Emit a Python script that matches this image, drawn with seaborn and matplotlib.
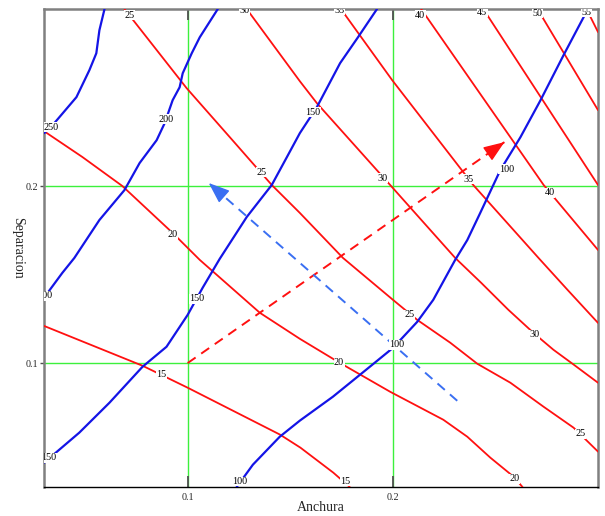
import matplotlib
matplotlib.use("Agg")
import matplotlib.pyplot as plt
import seaborn as sns

# ---------------- data ----------------
# red contour lines
red15_x = [0.030, 0.078, 0.100, 0.145, 0.155, 0.171, 0.179]
red15_y = [0.121, 0.0985, 0.0861, 0.0596, 0.0522, 0.0381, 0.030]
red20_x = [0.030, 0.0487, 0.0682, 0.0927, 0.1059, 0.1352, 0.1547, 0.1733, 0.1987, 0.2246, 0.2363, 0.2475, 0.2588, 0.2632]
red20_y = [0.231, 0.2164, 0.200, 0.1735, 0.1583, 0.1284, 0.1137, 0.1007, 0.0838, 0.068, 0.0584, 0.0466, 0.0359, 0.030]
red25_x = [0.0692, 0.0995, 0.122, 0.141, 0.1547, 0.1757, 0.2001, 0.2119, 0.228, 0.2412, 0.2573, 0.2734, 0.2881, 0.300]
red25_y = [0.300, 0.2553, 0.2257, 0.2006, 0.1848, 0.1594, 0.1357, 0.1244, 0.1115, 0.0996, 0.0889, 0.0754, 0.0635, 0.050]
red30_x = [0.1288, 0.1547, 0.163, 0.1987, 0.2304, 0.2431, 0.2563, 0.269, 0.2783, 0.2876, 0.300]
red30_y = [0.300, 0.2592, 0.2468, 0.2006, 0.1594, 0.1453, 0.1301, 0.1166, 0.1075, 0.0996, 0.0889]
red35_x = [0.1747, 0.1997, 0.2392, 0.271, 0.2852, 0.300]
red35_y = [0.300, 0.2598, 0.2006, 0.1594, 0.1413, 0.1227]
red40_x = [0.2138, 0.2735, 0.300]
red40_y = [0.300, 0.2006, 0.1639]
red45_x = [0.2441, 0.300]
red45_y = [0.300, 0.2006]
red50_x = [0.2705, 0.300]
red50_y = [0.300, 0.2429]
red55_x = [0.2944, 0.300]
red55_y = [0.300, 0.2870]

# blue contour lines
blue250_x = [0.0595, 0.057, 0.0555, 0.0521, 0.0458, 0.035, 0.0301]
blue250_y = [0.300, 0.288, 0.275, 0.2654, 0.2502, 0.2355, 0.2299]
blue200_x = [0.1147, 0.1059, 0.102, 0.0976, 0.0961, 0.0927, 0.0888, 0.0849, 0.0766, 0.0692, 0.057, 0.0448, 0.0389, 0.0321]
blue200_y = [0.300, 0.284, 0.275, 0.2637, 0.2558, 0.2485, 0.2355, 0.2259, 0.213, 0.1977, 0.1808, 0.1594, 0.1509, 0.1402]
blue150_x = [0.1923, 0.183, 0.1743, 0.163, 0.1547, 0.1484, 0.141, 0.1288, 0.1156, 0.1073, 0.100, 0.0897, 0.078, 0.0619, 0.0472, 0.0301]
blue150_y = [0.300, 0.284, 0.2694, 0.2446, 0.2299, 0.2164, 0.2006, 0.1825, 0.1588, 0.1425, 0.1272, 0.1092, 0.0979, 0.0776, 0.0607, 0.0438]
blue100_x = [0.1239, 0.1318, 0.1449, 0.1547, 0.1708, 0.184, 0.2001, 0.2119, 0.2197, 0.2304, 0.2363, 0.2426, 0.2524, 0.2622, 0.272, 0.2832, 0.294, 0.2959]
blue100_y = [0.030, 0.0426, 0.0584, 0.0675, 0.081, 0.0934, 0.1086, 0.1233, 0.1357, 0.1583, 0.1695, 0.1848, 0.209, 0.2276, 0.2485, 0.2739, 0.2976, 0.300]

# dashed arrows (tail, tip)
red_arrow_x = [0.100, 0.2544]
red_arrow_y = [0.100, 0.2248]
blue_arrow_x = [0.2314, 0.1103]
blue_arrow_y = [0.0787, 0.2017]

# contour labels
red_label_text = ['25', '30', '35', '40', '45', '50', '55', '20', '25', '30', '35', '40',
                  '15', '20', '25', '30', '25', '15', '20']
red_label_x = [0.0717, 0.1278, 0.1738, 0.2133, 0.2436, 0.2705, 0.2944, 0.0927, 0.1362, 0.1948, 0.2368, 0.2764,
               0.0873, 0.1738, 0.208, 0.269, 0.2915, 0.1767, 0.2593]
red_label_y = [0.2964, 0.2993, 0.2993, 0.2964, 0.2981, 0.2976, 0.2981, 0.1724, 0.2079, 0.2045, 0.2039, 0.1961,
               0.0934, 0.1002, 0.1272, 0.116, 0.0601, 0.0331, 0.0347]
blue_label_text = ['250', '200', '200', '150', '150', '150', '100', '100', '100']
blue_label_x = [0.0336, 0.0893, 0.0306, 0.1044, 0.1611, 0.0323, 0.1254, 0.2021, 0.2553]
blue_label_y = [0.2333, 0.2378, 0.138, 0.1363, 0.2417, 0.0466, 0.0331, 0.1103, 0.2096]

tick_values = [0.1, 0.2]
tick_labels = ['0.1', '0.2']
x_title = 'Anchura'
y_title = 'Separacion'

# ---------------- style ----------------
sns.set_style("white")
plt.rcParams['font.family'] = ['Liberation Serif', 'DejaVu Serif']

RED = '#ff1010'
BLUE = '#1414e6'
GREEN = '#3cf03c'
ABLUE = '#3a6ff2'

fig = plt.figure(figsize=(6.05, 5.16), dpi=100)
ax = fig.add_axes([44 / 605, (516 - 487) / 516, 554 / 605, 478 / 516])

red_curves = [(red15_x, red15_y), (red20_x, red20_y), (red25_x, red25_y), (red30_x, red30_y),
              (red35_x, red35_y), (red40_x, red40_y), (red45_x, red45_y), (red50_x, red50_y),
              (red55_x, red55_y)]
blue_curves = [(blue250_x, blue250_y), (blue200_x, blue200_y), (blue150_x, blue150_y),
               (blue100_x, blue100_y)]

for cx, cy in red_curves:
    sns.lineplot(x=cx, y=cy, sort=False, estimator=None, color=RED, lw=1.3, ax=ax, zorder=3,
                 solid_joinstyle='round')
for cx, cy in blue_curves:
    sns.lineplot(x=cx, y=cy, sort=False, estimator=None, color=BLUE, lw=1.6, ax=ax, zorder=3,
                 solid_joinstyle='round')

# dashed arrows
for axs, ays, col in [(red_arrow_x, red_arrow_y, RED), (blue_arrow_x, blue_arrow_y, ABLUE)]:
    sns.lineplot(x=axs, y=ays, sort=False, estimator=None, color=col, lw=1.4, ax=ax, zorder=4,
                 linestyle=(0, (5, 3.5)))
    fx = axs[1] - (axs[1] - axs[0]) * 0.02
    fy = ays[1] - (ays[1] - ays[0]) * 0.02
    ax.annotate('', xy=(axs[1], ays[1]), xytext=(fx, fy),
                arrowprops=dict(arrowstyle='-|>,head_length=1.3,head_width=0.5',
                                mutation_scale=10, color=col, lw=1.0,
                                shrinkA=0, shrinkB=0), zorder=5)

# contour labels
for t, lx, ly in zip(red_label_text + blue_label_text, red_label_x + blue_label_x,
                     red_label_y + blue_label_y):
    ax.text(lx, ly, t, fontsize=7.3, ha='center', va='center', color='black', zorder=6,
            clip_on=True, bbox=dict(facecolor='white', edgecolor='none', pad=0.3))

ax.set_xlim(0.03, 0.30)
ax.set_ylim(0.03, 0.30)
ax.set_xticks(tick_values)
ax.set_xticklabels(tick_labels, fontsize=7.3)
ax.set_yticks(tick_values)
ax.set_yticklabels(tick_labels, fontsize=7.3)
ax.grid(True, color=GREEN, lw=1.0)
ax.set_axisbelow(True)

ax.tick_params(axis='x', direction='in', length=8, width=1.3, color='#505050',
               top=True, bottom=True, pad=4)
ax.tick_params(axis='y', direction='out', length=3, width=1.0, color='#505050',
               left=True, right=False, pad=1)

for side in ['left', 'right', 'top']:
    ax.spines[side].set_color('#808080')
    ax.spines[side].set_linewidth(1.8)
ax.spines['bottom'].set_color('black')
ax.spines['bottom'].set_linewidth(1.0)

ax.set_xlabel(x_title, fontsize=10)
ax.xaxis.set_label_coords(0.5, -0.03)
ax.xaxis.label.set_va('top')
ax.set_ylabel(y_title, fontsize=10, rotation=-90)
ax.yaxis.label.set_va('center')
ax.yaxis.label.set_ha('center')
ax.yaxis.set_label_coords(-0.047, 0.5)

fig.savefig('out.png', dpi=100)
